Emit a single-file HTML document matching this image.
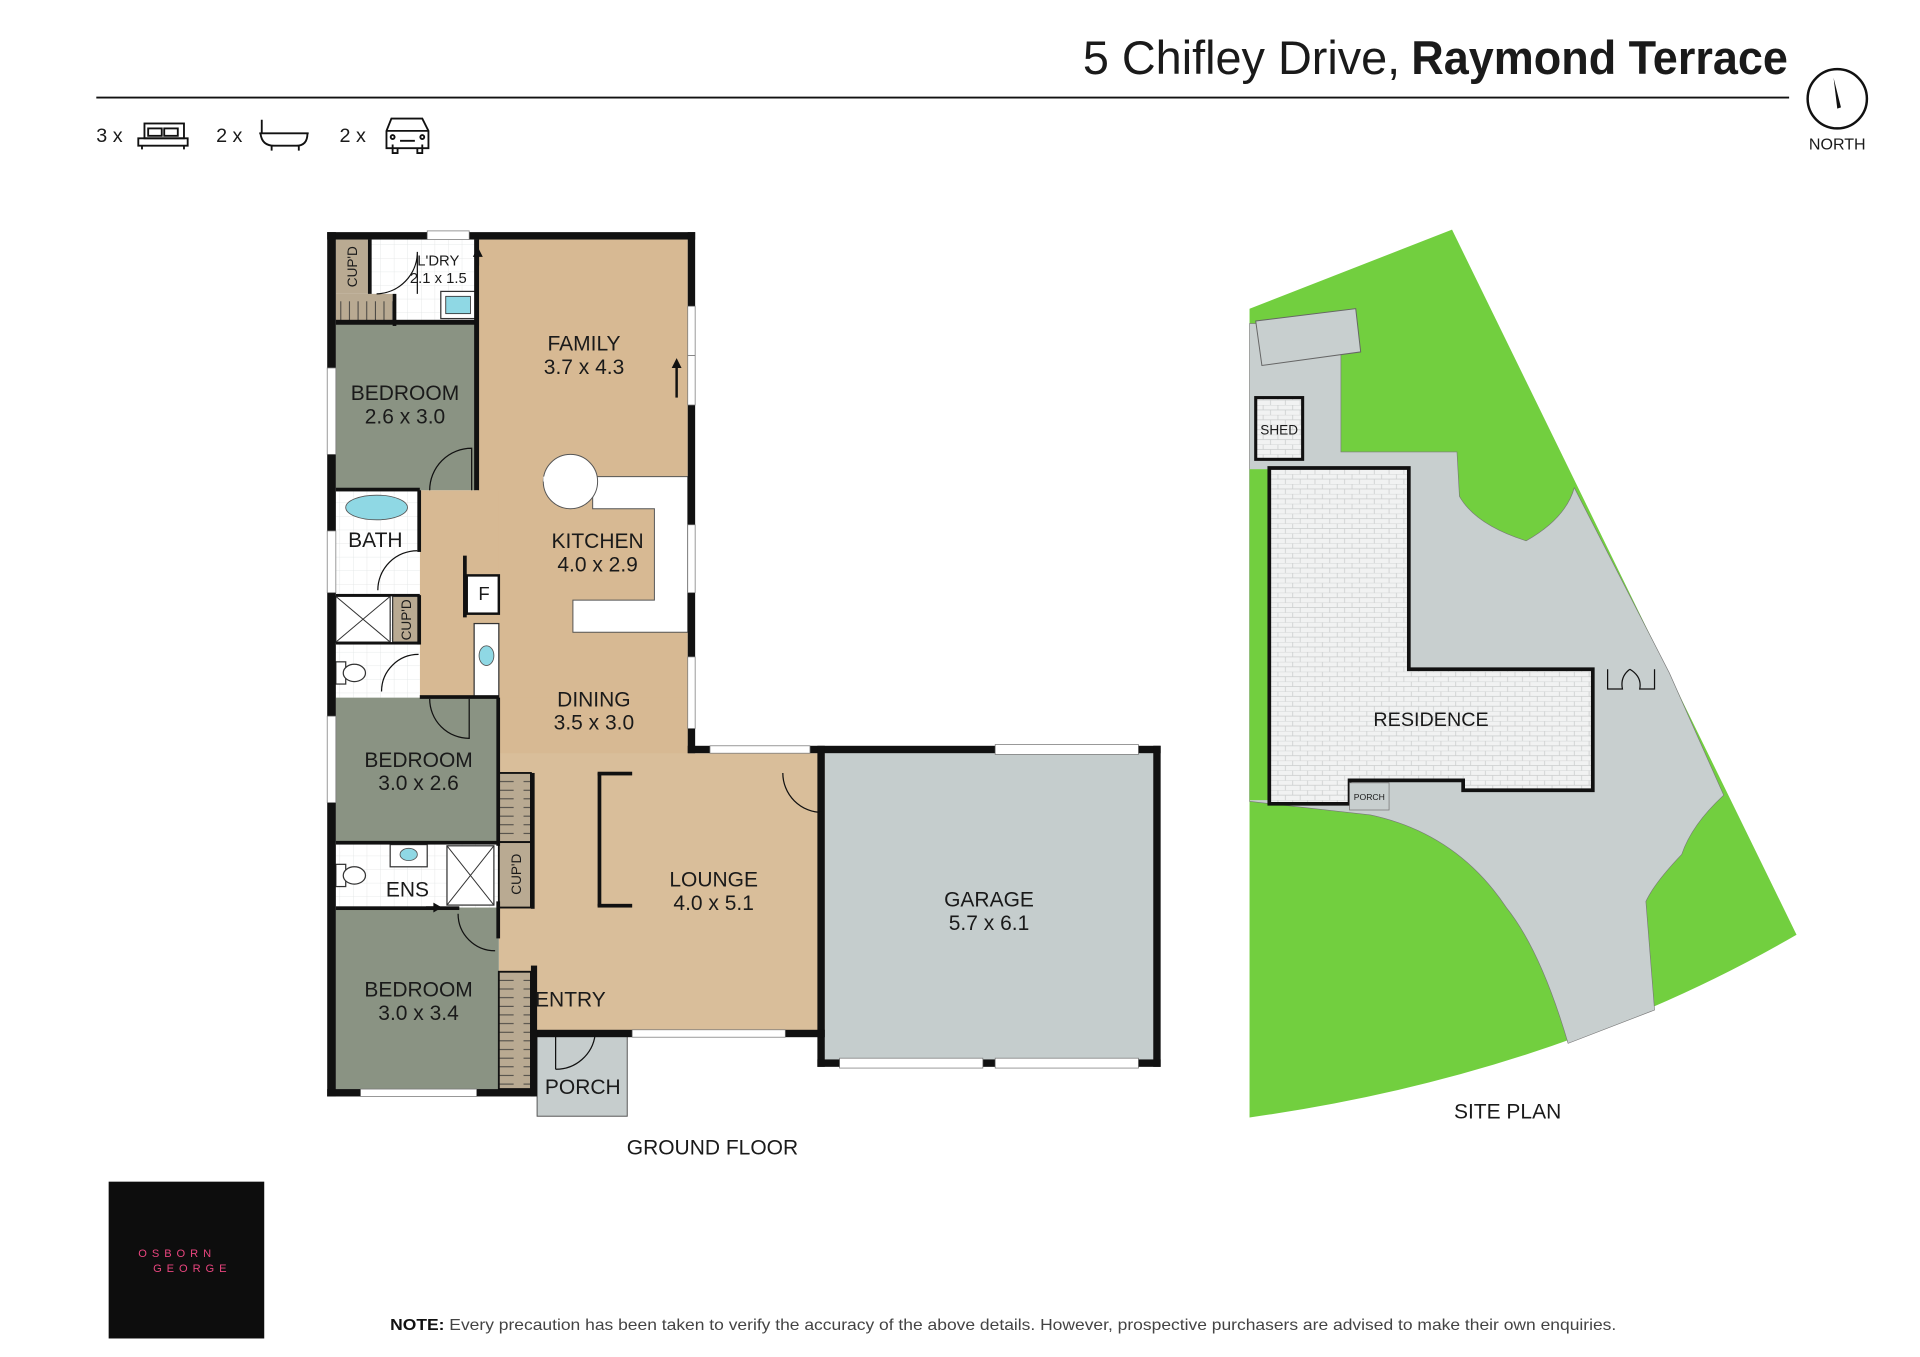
<!DOCTYPE html>
<html><head><meta charset="utf-8"><style>
html,body{margin:0;padding:0;background:#fff;}
svg{display:block;}
text{font-family:"Liberation Sans",sans-serif;fill:#1a1a1a;}
</style></head><body>
<svg width="1920" height="1357" viewBox="0 0 1555 1099" preserveAspectRatio="none" xmlns="http://www.w3.org/2000/svg">
<defs>
<pattern id="brick" width="12" height="8" patternUnits="userSpaceOnUse">
<rect width="12" height="8" fill="#f1f2f2"/>
<path d="M0,0H12M0,4H12M3,0V4M9,4V8" stroke="#c9cccc" stroke-width="0.6"/>
</pattern>
<pattern id="tile" width="11" height="11" patternUnits="userSpaceOnUse">
<rect width="11" height="11" fill="#fff"/>
<path d="M0,0H11M0,0V11" stroke="#dfe3e3" stroke-width="0.6"/>
</pattern>
<pattern id="robe" width="7" height="30" patternUnits="userSpaceOnUse">
<rect width="7" height="30" fill="#b9aa92"/>
<path d="M3,4V26" stroke="#333" stroke-width="0.7"/>
</pattern>
<pattern id="robeh" width="30" height="7" patternUnits="userSpaceOnUse">
<rect width="30" height="7" fill="#b9aa92"/>
<path d="M4,3H26" stroke="#333" stroke-width="0.7"/>
</pattern>
</defs>

<!-- Title -->
<text x="877" y="60" font-size="38" textLength="257" lengthAdjust="spacingAndGlyphs">5 Chifley Drive,</text>
<text x="1143" y="60" font-size="38" font-weight="bold" textLength="305" lengthAdjust="spacingAndGlyphs">Raymond Terrace</text>
<line x1="78" y1="79" x2="1449" y2="79" stroke="#111" stroke-width="1.5"/>
<circle cx="1488" cy="80" r="24" fill="none" stroke="#111" stroke-width="2"/>
<path d="M1485,63 L1491,87 L1488,88 Z" fill="#111"/>
<text x="1488" y="121" font-size="13" text-anchor="middle">NORTH</text>

<!-- icons -->
<text x="78" y="115" font-size="16">3 x</text>
<g fill="none" stroke="#111" stroke-width="1.5">
<rect x="117" y="100" width="32" height="12"/><rect x="120" y="104" width="11" height="6"/><rect x="133" y="104" width="11" height="6"/>
<path d="M112,112H152V118H112Z M115,118V121 M149,118V121"/>
</g>
<text x="175" y="115" font-size="16">2 x</text>
<g fill="none" stroke="#111" stroke-width="1.5">
<path d="M212,97V108 M210,108H250 M211,108 Q212,118 222,118 H240 Q249,118 249,108 M220,118V122 M242,118V122"/>
</g>
<text x="275" y="115" font-size="16">2 x</text>
<g fill="none" stroke="#111" stroke-width="1.5">
<path d="M317,96H342L347,106V120H313V106Z M313,106H347 M318,117V124H322V120 M338,120V124H342V117 M324,114H336"/>
<circle cx="318" cy="111" r="1.6"/><circle cx="342" cy="111" r="1.6"/>
</g>

<!-- FLOOR PLAN fills -->
<g>
<rect x="387" y="194" width="170" height="416" fill="#d7b993"/>
<rect x="340" y="397" width="64" height="168" fill="#d7b993"/>
<rect x="404" y="565" width="153" height="50" fill="#d7b993"/>
<rect x="404" y="610" width="264" height="225" fill="#d9be9a"/>
<!-- kitchen counters white -->
<path d="M480,386H557V512H464V486H530V412H480Z" fill="#fff" stroke="#555" stroke-width="0.8"/>
<circle cx="462" cy="390" r="22" fill="#fff" stroke="#555" stroke-width="0.8"/>
<rect x="440" y="386" width="42" height="4" fill="#fff"/>
<!-- laundry -->
<rect x="300" y="194" width="87" height="68" fill="url(#tile)"/>
<rect x="272" y="194" width="26" height="44" fill="#b9aa92"/>
<rect x="272" y="238" width="46" height="24" fill="url(#robe)"/>
<rect x="357" y="236" width="28" height="22" fill="#fff" stroke="#333" stroke-width="1"/>
<rect x="361" y="240" width="20" height="14" fill="#8fd8e4" stroke="#333" stroke-width="0.7"/>
<!-- bedroom 1 -->
<rect x="272" y="262" width="113" height="135" fill="#8a9383"/>
<!-- bath -->
<rect x="272" y="397" width="68" height="168" fill="url(#tile)"/>
<ellipse cx="305" cy="411" rx="25" ry="10" fill="#8fd8e4" stroke="#555" stroke-width="0.7"/>
<rect x="272" y="483" width="44" height="37" fill="#fff" stroke="#333" stroke-width="1"/>
<path d="M272,483L316,520M316,483L272,520" stroke="#333" stroke-width="0.8"/>
<rect x="318" y="483" width="22" height="37" fill="#b9aa92" stroke="#333" stroke-width="1"/>
<rect x="272" y="536" width="8" height="18" fill="#fff" stroke="#333"/><ellipse cx="287" cy="545" rx="9" ry="7" fill="#fff" stroke="#333"/>
<!-- vanity + F -->
<rect x="384" y="505" width="20" height="60" fill="#fff" stroke="#333" stroke-width="1"/>
<ellipse cx="394" cy="531" rx="6" ry="8" fill="#8fd8e4" stroke="#555" stroke-width="0.7"/>
<rect x="378" y="466" width="26" height="31" fill="#fff" stroke="#111" stroke-width="2"/>
<!-- bedroom 2 -->
<rect x="272" y="565" width="132" height="117" fill="#8a9383"/>
<rect x="404" y="626" width="26" height="56" fill="url(#robeh)" stroke="#111" stroke-width="1.5"/>
<!-- ens -->
<rect x="272" y="682" width="132" height="53" fill="url(#tile)"/>
<rect x="362" y="685" width="38" height="48" fill="#fff" stroke="#333"/>
<path d="M362,685L400,733M400,685L362,733" stroke="#333" stroke-width="0.8"/>
<rect x="316" y="684" width="30" height="18" fill="#fff" stroke="#333"/><ellipse cx="331" cy="692" rx="7" ry="5" fill="#8fd8e4" stroke="#555" stroke-width="0.7"/>
<rect x="272" y="700" width="8" height="18" fill="#fff" stroke="#333"/><ellipse cx="287" cy="709" rx="9" ry="7" fill="#fff" stroke="#333"/>
<rect x="404" y="682" width="26" height="53" fill="#b9aa92" stroke="#111" stroke-width="1.5"/>
<!-- bedroom 3 -->
<rect x="272" y="735" width="132" height="147" fill="#8a9383"/>
<rect x="404" y="787" width="26" height="95" fill="url(#robeh)" stroke="#111" stroke-width="1.5"/>
<!-- porch -->
<rect x="435" y="838" width="73" height="66" fill="#c6cdcd" stroke="#555" stroke-width="0.8"/>
<!-- garage -->
<rect x="668" y="610" width="266" height="248" fill="#c5cdcd"/>
</g>

<!-- walls -->
<g fill="#111">
<rect x="265" y="188" width="298" height="6"/>
<rect x="265" y="188" width="7" height="700"/>
<rect x="557" y="188" width="6" height="422"/>
<rect x="557" y="604" width="383" height="6"/>
<rect x="934" y="604" width="6" height="260"/>
<rect x="662" y="604" width="6" height="260"/>
<rect x="662" y="858" width="278" height="6"/>
<rect x="430" y="834" width="238" height="6"/>
<rect x="265" y="882" width="168" height="6"/>
<rect x="430" y="782" width="5" height="106"/>
<!-- interior -->
<rect x="298" y="194" width="3" height="44"/>
<rect x="318" y="238" width="3" height="26"/>
<rect x="272" y="259" width="115" height="4"/>
<rect x="384" y="194" width="4" height="203"/>
<rect x="272" y="395" width="68" height="3"/>
<rect x="338" y="397" width="3" height="50"/>
<rect x="338" y="482" width="3" height="40"/>
<rect x="272" y="481" width="68" height="2"/>
<rect x="272" y="520" width="68" height="2"/>
<rect x="340" y="563" width="64" height="3"/>
<rect x="402" y="565" width="3" height="120"/>
<rect x="272" y="681" width="132" height="3"/>
<rect x="272" y="734" width="100" height="3"/>
<rect x="402" y="730" width="3" height="30"/>
<rect x="430" y="626" width="3" height="110"/>
<rect x="375" y="450" width="3" height="50"/>
<!-- lounge bracket -->
<rect x="484" y="626" width="3" height="108"/>
<rect x="484" y="625" width="28" height="3"/>
<rect x="484" y="732" width="28" height="3"/>
</g>

<!-- windows -->
<g fill="#fff" stroke="#777" stroke-width="0.6">
<rect x="346" y="187" width="34" height="7"/>
<rect x="557" y="248" width="6" height="40"/><rect x="557" y="288" width="6" height="40"/>
<rect x="557" y="425" width="6" height="55"/>
<rect x="557" y="532" width="6" height="58"/>
<rect x="575" y="604" width="81" height="6"/>
<rect x="806" y="603" width="116" height="8"/>
<rect x="680" y="857" width="116" height="8"/><rect x="806" y="857" width="116" height="8"/>
<rect x="512" y="834" width="124" height="6"/>
<rect x="265" y="298" width="7" height="70"/>
<rect x="265" y="430" width="7" height="50"/>
<rect x="265" y="580" width="7" height="70"/>
<rect x="292" y="882" width="94" height="6"/>
</g>

<!-- doors -->
<g fill="none" stroke="#111" stroke-width="1">
<path d="M348,397A34,34 0 0 1 382,363V397"/>
<path d="M305,238A34,34 0 0 0 338,204V238" />
<path d="M306,478A32,32 0 0 1 338,446"/>
<path d="M309,560A30,30 0 0 1 339,530"/>
<path d="M348,566A32,32 0 0 0 380,598V566"/>
<path d="M371,740A30,30 0 0 0 401,770"/>
<path d="M450,866A32,32 0 0 0 482,838"/><path d="M450,838V866"/>
<path d="M634,626A32,32 0 0 0 666,658"/>
</g>
<path d="M548,322V296" stroke="#111" stroke-width="2"/><path d="M544,298L548,290L552,298Z" fill="#111"/>
<path d="M387,215V206" stroke="#111" stroke-width="2"/><path d="M383,208L387,200L391,208Z" fill="#111"/>
<path d="M345,735H353" stroke="#111" stroke-width="2"/><path d="M351,731L358,735L351,739Z" fill="#111"/>

<!-- room labels -->
<g font-size="17" text-anchor="middle">
<text x="473" y="284">FAMILY</text><text x="473" y="303">3.7 x 4.3</text>
<text x="328" y="324">BEDROOM</text><text x="328" y="343">2.6 x 3.0</text>
<text x="484" y="444">KITCHEN</text><text x="484" y="463">4.0 x 2.9</text>
<text x="304" y="443">BATH</text>
<text x="481" y="572">DINING</text><text x="481" y="591">3.5 x 3.0</text>
<text x="339" y="621">BEDROOM</text><text x="339" y="640">3.0 x 2.6</text>
<text x="330" y="726">ENS</text>
<text x="578" y="718">LOUNGE</text><text x="578" y="737">4.0 x 5.1</text>
<text x="801" y="734">GARAGE</text><text x="801" y="753">5.7 x 6.1</text>
<text x="339" y="807">BEDROOM</text><text x="339" y="826">3.0 x 3.4</text>
<text x="462" y="815">ENTRY</text>
<text x="472" y="886">PORCH</text>
<text x="577" y="935">GROUND FLOOR</text>
<text x="1221" y="906">SITE PLAN</text>
</g>
<text x="392" y="486" font-size="15" text-anchor="middle">F</text>
<g font-size="12" text-anchor="middle">
<text x="355" y="215">L'DRY</text><text x="355" y="229">2.1 x 1.5</text>
</g>
<g font-size="11" text-anchor="middle">
<text transform="translate(289,216) rotate(-90)">CUP'D</text>
<text transform="translate(333,502) rotate(-90)">CUP'D</text>
<text transform="translate(422,708) rotate(-90)">CUP'D</text>
</g>

<!-- SITE PLAN -->
<path d="M1012,250L1176,186L1455,757Q1260,870 1012,905Z" fill="#72cf3f"/>
<path d="M1012,262L1018,262L1086,262L1086,366L1180,366L1182,402Q1195,425 1236,438Q1268,420 1275,395L1352,545L1396,644Q1370,668 1362,692Q1340,715 1333,730L1340,818L1270,845Q1248,770 1220,735Q1180,675 1110,660L1012,649Z" fill="#c8cfcf" stroke="#777" stroke-width="0.5"/>
<path d="M1017,260L1098,250L1102,285L1022,296Z" fill="#c8cfcf" stroke="#666" stroke-width="0.8"/>
<rect x="1012" y="380" width="16" height="268" fill="#72cf3f"/>
<path d="M1028,379H1141V542H1290V640H1185V632H1093V651H1028Z" fill="url(#brick)" stroke="#111" stroke-width="3"/>
<rect x="1093" y="634" width="32" height="22" fill="#c8cfcf" stroke="#777" stroke-width="0.6"/>
<text x="1109" y="648" font-size="7" text-anchor="middle">PORCH</text>
<rect x="1017" y="322" width="38" height="50" fill="url(#brick)" stroke="#111" stroke-width="2.5"/>
<text x="1036" y="352" font-size="11" text-anchor="middle">SHED</text>
<text x="1159" y="588" font-size="16" text-anchor="middle">RESIDENCE</text>
<path d="M1302,542V558H1314Q1312,548 1320,542 M1340,542V558H1328Q1330,548 1320,542" fill="none" stroke="#111" stroke-width="1"/>

<!-- logo -->
<rect x="88" y="957" width="126" height="127" fill="#0d0d0d"/>
<text x="112" y="1018" font-size="9" fill="#e8457e" letter-spacing="4" style="fill:#e8457e">OSBORN</text>
<text x="124" y="1030" font-size="9" fill="#e8457e" letter-spacing="4" style="fill:#e8457e">GEORGE</text>

<text x="316" y="1077" font-size="13" style="fill:#444" textLength="993" lengthAdjust="spacingAndGlyphs"><tspan font-weight="bold" style="fill:#111">NOTE:</tspan> Every precaution has been taken to verify the accuracy of the above details. However, prospective purchasers are advised to make their own enquiries.</text>
</svg>
</body></html>
